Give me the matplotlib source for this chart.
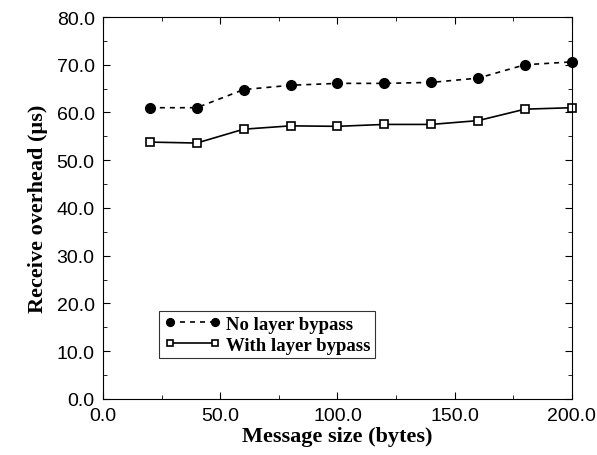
import matplotlib.pyplot as plt
from matplotlib.ticker import MultipleLocator, FormatStrFormatter

# message sizes (bytes) and receive overhead (us)
sizes = [20, 40, 60, 80, 100, 120, 140, 160, 180, 200]
no_bypass = [61.0, 61.0, 64.8, 65.7, 66.1, 66.1, 66.3, 67.2, 70.0, 70.6]
with_bypass = [53.8, 53.6, 56.5, 57.2, 57.1, 57.5, 57.5, 58.3, 60.7, 61.0]

fig = plt.figure(figsize=(5.97, 4.56), dpi=100)
ax = fig.add_axes([0.1725, 0.123, 0.7855, 0.8375])

ax.plot(sizes, no_bypass, '--', color='black', lw=1.2, marker='o', ms=7,
        mfc='black', dashes=(3, 3), label='No layer bypass', clip_on=False)
ax.plot(sizes, with_bypass, '-', color='black', lw=1.2, marker='s', ms=5.5,
        mfc='white', mew=1.2, label='With layer bypass', clip_on=False)

ax.set_xlim(0, 200)
ax.set_ylim(0, 80)
ax.xaxis.set_major_locator(MultipleLocator(50))
ax.xaxis.set_minor_locator(MultipleLocator(25))
ax.yaxis.set_major_locator(MultipleLocator(10))
ax.yaxis.set_minor_locator(MultipleLocator(5))
ax.xaxis.set_major_formatter(FormatStrFormatter('%.1f'))
ax.yaxis.set_major_formatter(FormatStrFormatter('%.1f'))
ax.tick_params(which='both', direction='in', top=True, right=True)
ax.tick_params(which='major', length=5, labelsize=14, pad=6)
ax.tick_params(which='minor', length=3)
for lab in ax.get_xticklabels() + ax.get_yticklabels():
    lab.set_family('Liberation Sans')

ax.set_xlabel('Message size (bytes)', family='Liberation Serif',
              fontweight='bold', fontsize=16, labelpad=1)
ax.set_ylabel('Receive overhead (\u00b5s)', family='Liberation Serif',
              fontweight='bold', fontsize=16, labelpad=6)

leg = ax.legend(loc='upper left', bbox_to_anchor=(0.12, 0.23), numpoints=2,
                markerscale=0.8,
                prop={'family': 'Liberation Serif', 'weight': 'bold', 'size': 13.5},
                frameon=True, fancybox=False, edgecolor='black',
                handlelength=3.0, borderpad=0.25, labelspacing=0.2,
                handletextpad=0.3, borderaxespad=0)
leg.get_frame().set_linewidth(0.8)

plt.savefig('out.png')
